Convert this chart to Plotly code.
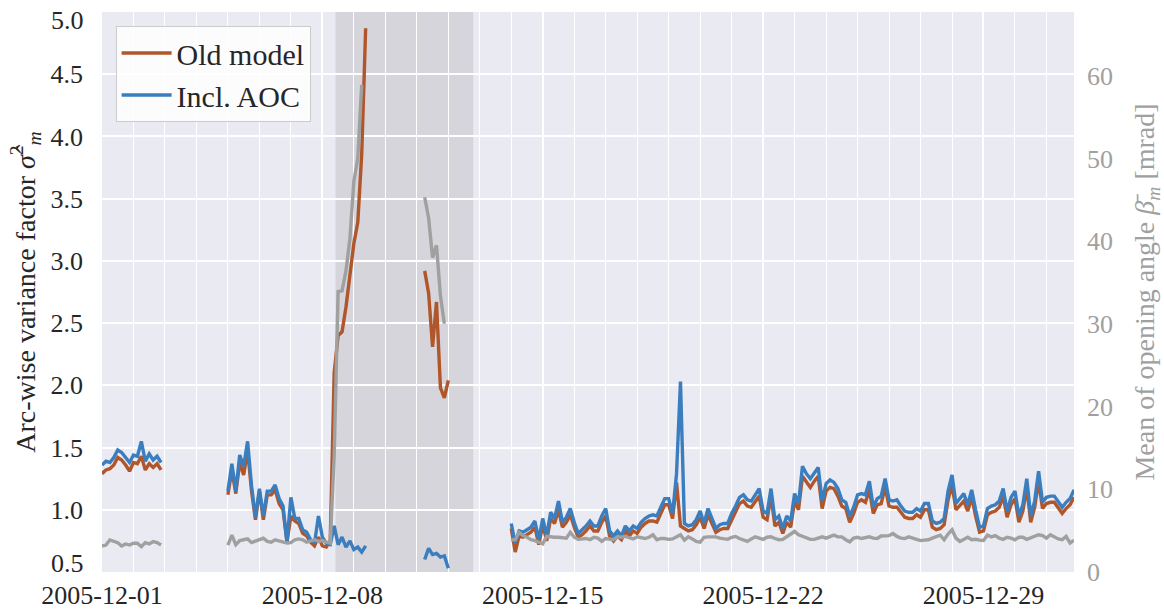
import pandas as pd
import plotly.graph_objects as go

# Sampling step of the arc-wise estimates
STEP = "3h"

# Start time of each continuous data block
seg_starts = ["2005-12-01 00:00", "2005-12-05 00:00", "2005-12-11 06:00", "2005-12-14 00:00"]

# Arc-wise variance factor, old model
old_s1 = [1.29, 1.32, 1.33, 1.36, 1.42, 1.40, 1.36, 1.31, 1.38, 1.37, 1.43, 1.32, 1.37, 1.34, 1.37, 1.32]
old_s2 = [1.12, 1.32, 1.13, 1.38, 1.28, 1.48, 1.15, 0.92, 1.15, 0.92, 1.12, 1.12, 1.16, 1.05, 1.00, 0.74,
          0.95, 0.91, 0.89, 0.81, 0.79, 0.74, 0.71, 0.78, 0.71, 0.70, 0.75, 2.10, 2.40, 2.43, 2.63, 2.89,
          3.14, 3.31, 3.86, 4.87]
old_s3 = [2.92, 2.74, 2.31, 2.67, 1.98, 1.90, 2.04]
old_s4 = [0.85, 0.66, 0.79, 0.78, 0.80, 0.82, 0.86, 0.72,
          0.88, 0.75, 0.93, 0.89, 1.00, 0.86, 0.90, 0.96,
          0.86, 0.78, 0.80, 0.83, 0.87, 0.83, 0.83, 0.90,
          0.95, 0.79, 0.75, 0.79, 0.76, 0.83, 0.79, 0.83,
          0.81, 0.86, 0.89, 0.91, 0.91, 0.90, 0.97, 1.04,
          1.04, 0.93, 1.22, 0.87, 0.85, 0.83, 0.84, 0.88,
          0.94, 0.85, 0.96, 0.89, 0.82, 0.84, 0.85, 0.85,
          0.92, 0.98, 1.05, 1.07, 1.03, 1.02, 1.07, 1.11,
          0.94, 0.92, 1.11, 0.87, 0.90, 0.81, 0.90, 0.86,
          1.07, 1.00, 1.27, 1.22, 1.18, 1.23, 1.27, 1.01,
          1.15, 1.18, 1.17, 1.11, 1.03, 1.01, 0.90, 0.97,
          1.06, 1.08, 1.06, 1.16, 0.97, 1.04, 1.05, 1.18,
          1.03, 1.02, 1.02, 0.98, 0.94, 0.93, 0.93, 0.96,
          0.94, 1.00, 1.00, 0.86, 0.84, 0.85, 0.88, 1.08,
          1.20, 1.00, 1.04, 1.07, 0.99, 1.10, 0.95, 0.82,
          0.83, 0.96, 0.98, 0.99, 1.02, 1.11, 0.94, 1.04,
          1.09, 0.90, 0.99, 1.18, 0.90, 1.02, 1.23, 1.01,
          1.05, 1.06, 1.06, 1.01, 0.97, 1.01, 1.04, 1.10]

# Arc-wise variance factor, model including AOC
aoc_s1 = [1.36, 1.39, 1.38, 1.42, 1.48, 1.46, 1.42, 1.38, 1.44, 1.43, 1.55, 1.39, 1.45, 1.40, 1.43, 1.38]
aoc_s2 = [1.15, 1.37, 1.15, 1.44, 1.35, 1.55, 1.19, 0.94, 1.17, 0.95, 1.15, 1.15, 1.20, 1.09, 1.03, 0.74,
          1.10, 0.93, 0.93, 0.84, 0.82, 0.76, 0.73, 0.95, 0.78, 0.73, 0.72, 0.87, 0.72, 0.78, 0.70, 0.75,
          0.68, 0.70, 0.66, 0.71]
aoc_s3 = [0.60, 0.69, 0.64, 0.65, 0.62, 0.63, 0.53]
aoc_s4 = [0.89, 0.73, 0.83, 0.82, 0.84, 0.86, 0.91, 0.76,
          0.93, 0.79, 0.98, 0.93, 1.07, 0.90, 0.94, 1.01,
          0.90, 0.81, 0.84, 0.87, 0.91, 0.87, 0.87, 0.95,
          1.01, 0.83, 0.79, 0.83, 0.79, 0.87, 0.83, 0.87,
          0.85, 0.90, 0.93, 0.95, 0.96, 0.95, 1.02, 1.09,
          1.09, 0.97, 1.29, 2.03, 0.89, 0.87, 0.88, 0.92,
          0.99, 0.89, 1.01, 0.93, 0.85, 0.88, 0.89, 0.89,
          0.97, 1.03, 1.10, 1.12, 1.08, 1.07, 1.12, 1.17,
          0.99, 0.97, 1.17, 0.92, 0.95, 0.85, 0.95, 0.91,
          1.13, 1.05, 1.35, 1.29, 1.25, 1.30, 1.34, 1.07,
          1.21, 1.24, 1.22, 1.17, 1.08, 1.06, 0.95, 1.02,
          1.12, 1.13, 1.12, 1.23, 1.02, 1.09, 1.11, 1.25,
          1.08, 1.07, 1.08, 1.03, 0.99, 0.98, 0.98, 1.01,
          0.99, 1.05, 1.05, 0.91, 0.89, 0.90, 0.93, 1.15,
          1.28, 1.05, 1.09, 1.13, 1.04, 1.16, 1.00, 0.86,
          0.87, 1.01, 1.03, 1.04, 1.07, 1.17, 0.99, 1.10,
          1.15, 0.95, 1.04, 1.25, 0.95, 1.07, 1.31, 1.06,
          1.10, 1.11, 1.11, 1.06, 1.02, 1.06, 1.09, 1.16]

# Mean opening angle in mrad (right axis)
beta_s1 = [3.14, 3.26, 3.87, 3.67, 3.55, 3.14, 3.39, 3.26, 3.47, 3.47, 3.06, 3.55, 3.39, 3.67, 3.55, 3.26]
beta_s2 = [3.26, 4.47, 3.30, 3.80, 3.90, 4.00, 3.55, 3.70, 3.85, 4.10, 3.70, 3.60, 3.90, 3.80, 3.60, 3.50,
           3.55, 3.90, 4.00, 3.90, 3.60, 3.80, 3.90, 3.70, 3.80, 3.60, 3.50, 14.0, 33.9, 34.0, 36.4, 40.3,
           47.2, 50.0, 58.9]
beta_s3 = [45.3, 42.8, 38.0, 39.5, 33.4, 30.0]
beta_s4 = [3.9, 3.9, 4.8, 4.4, 4.2, 3.9, 3.8, 3.6,
           3.4, 4.3, 4.2, 4.2, 4.2, 4.1, 4.1, 4.8,
           4.2, 3.95, 4.0, 4.05, 3.9, 4.2, 4.1, 3.7,
           4.05, 4.0, 3.9, 4.25, 4.2, 4.3, 4.1, 4.0,
           4.25, 4.1, 4.05, 4.2, 4.5, 3.9, 4.05, 4.05,
           3.95, 4.0, 4.25, 4.5, 3.85, 4.25, 4.0, 3.7,
           3.6, 4.2, 4.25, 4.3, 4.25, 4.1, 4.05, 3.95,
           4.2, 4.3, 4.05, 3.9, 3.7, 4.0, 4.25, 4.1,
           3.95, 4.2, 4.25, 4.05, 3.9, 3.95, 4.25, 4.5,
           4.9, 4.5, 4.3, 4.1, 3.95, 3.95, 4.1, 4.25,
           4.1, 4.3, 4.45, 4.25, 4.25, 3.9, 3.65, 4.1,
           4.2, 4.05, 4.15, 4.25, 4.1, 4.05, 4.35, 4.35,
           4.4, 4.65, 4.3, 4.1, 4.05, 4.25, 4.1, 3.9,
           3.8, 3.85, 3.9, 4.1, 4.25, 4.45, 3.9, 4.6,
           5.1, 4.1, 3.7, 3.9, 4.2, 3.9, 3.95, 3.85,
           3.8, 4.45, 4.25, 4.4, 4.1, 3.95, 4.2, 4.1,
           3.9, 4.2, 4.2, 3.95, 4.1, 4.3, 4.5, 4.4,
           4.1, 4.5, 4.25, 4.0, 3.9, 4.3, 3.5, 3.85]

# Left-axis ticks; the two end labels are nudged inward so they stay clear of the edges
y_ticks = [1.0, 1.5, 2.0, 2.5, 3.0, 3.5, 4.0, 4.5]
y_end_ticks = [0.5, 5.0]

# Interval with degraded solutions
shade_start = "2005-12-08 10:00"
shade_end = "2005-12-12 19:00"

x_start = "2005-12-01 00:00"
x_end = "2005-12-31 21:00"

C_OLD = "#B0562A"
C_AOC = "#3A7EBF"
C_BETA = "#A0A0A0"
C_TEXT = "#262626"
FONT = "Liberation Serif"
LW = 3.4


def stitch(starts, segments):
    """Join data blocks on a common time axis, breaking the line between blocks."""
    xs, ys = [], []
    for start, vals in zip(starts, segments):
        t = pd.date_range(start, periods=len(vals), freq=STEP)
        xs.extend(t)
        ys.extend(vals)
        xs.append(t[-1] + pd.Timedelta(STEP))
        ys.append(None)
    return xs, ys


x_old, y_old = stitch(seg_starts, [old_s1, old_s2, old_s3, old_s4])
x_aoc, y_aoc = stitch(seg_starts, [aoc_s1, aoc_s2, aoc_s3, aoc_s4])
x_beta, y_beta = stitch(seg_starts, [beta_s1, beta_s2, beta_s3, beta_s4])

fig = go.Figure()
fig.add_trace(go.Scatter(x=x_old, y=y_old, mode="lines", name="Old model",
                         line=dict(color=C_OLD, width=LW)))
fig.add_trace(go.Scatter(x=x_aoc, y=y_aoc, mode="lines", name="Incl. AOC",
                         line=dict(color=C_AOC, width=LW)))
fig.add_trace(go.Scatter(x=x_beta, y=y_beta, mode="lines", name="beta",
                         line=dict(color=C_BETA, width=LW), yaxis="y2", showlegend=False))

fig.add_shape(type="rect", xref="x", yref="paper", x0=shade_start, x1=shade_end, y0=0, y1=1,
              fillcolor="rgba(128,128,128,0.2)", line=dict(width=0), layer="between")

# End labels of the left axis, placed on the axis scale and shifted inward
for v in y_end_ticks:
    fig.add_annotation(x=0, xref="paper", y=v, yref="y", text=f"{v:.1f}", showarrow=False,
                       xanchor="right", yanchor="middle", xshift=-16,
                       yshift=9 if v == min(y_end_ticks) else -8,
                       font=dict(family=FONT, size=26, color=C_TEXT))

fig.update_layout(
    width=1164, height=612,
    margin=dict(l=102, r=90, t=12, b=40),
    paper_bgcolor="white", plot_bgcolor="#EAEAF2",
    font=dict(family=FONT, size=26, color=C_TEXT),
    legend=dict(x=0.014, y=0.975, xanchor="left", yanchor="top",
                bgcolor="rgba(255,255,255,0.85)", bordercolor="#CCCCCC", borderwidth=1,
                font=dict(family=FONT, size=30, color=C_TEXT), itemwidth=50),
    xaxis=dict(type="date", range=[x_start, x_end], tick0="2005-12-01", dtick=7 * 86400000,
               tickformat="%Y-%m-%d", showgrid=True, gridcolor="white", gridwidth=2,
               minor=dict(dtick=86400000, showgrid=True, gridcolor="white", gridwidth=1.3),
               zeroline=False, showline=False, ticks="", ticklabelstandoff=5,
               automargin=False, ticklabeloverflow="allow"),
    yaxis=dict(range=[0.5, 5.0], tickmode="array", tickvals=y_ticks,
               ticktext=[f"{v:.1f}" for v in y_ticks],
               showgrid=True, gridcolor="white", gridwidth=2, zeroline=False, ticks="",
               ticklabelstandoff=18, automargin=False, ticklabeloverflow="allow",
               title=dict(text="Arc-wise variance factor <i>σ̂</i><sup>2</sup><sub><i>m</i></sub>",
                          standoff=6, font=dict(family=FONT, size=28, color=C_TEXT))),
    yaxis2=dict(range=[0, 67.7], tick0=0, dtick=10, overlaying="y", side="right",
                showgrid=False, zeroline=False, ticks="", ticklabelstandoff=12,
                automargin=False, ticklabeloverflow="allow",
                tickfont=dict(family=FONT, size=26, color=C_BETA),
                title=dict(text="Mean of opening angle <i>β̄</i><sub><i>m</i></sub> [mrad]",
                           standoff=22, font=dict(family=FONT, size=28, color=C_BETA))),
)

fig.write_html("out.html")
